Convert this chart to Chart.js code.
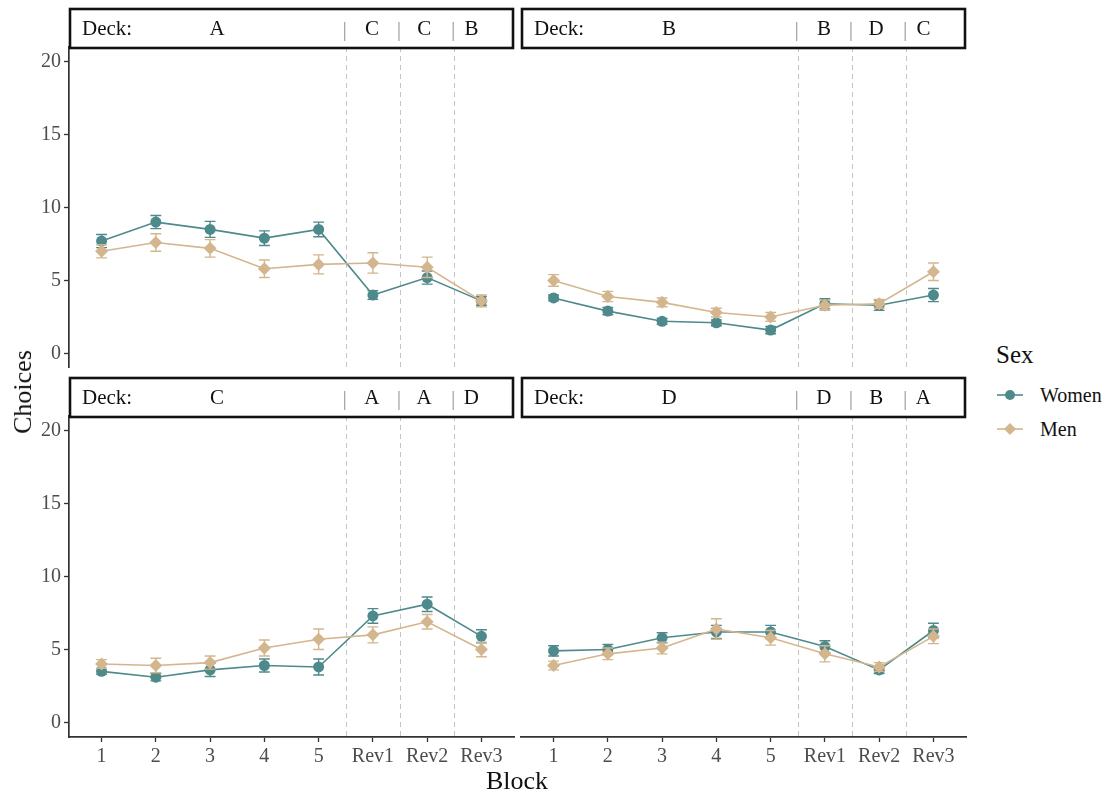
<!DOCTYPE html>
<html>
<head>
<meta charset="utf-8">
<title>Choices per block by deck and sex</title>
<script src="https://cdn.jsdelivr.net/npm/chart.js@4.4.1/dist/chart.umd.min.js"></script>
<style>
  html, body { margin: 0; padding: 0; background: #fff; }
  #page { position: relative; width: 1110px; height: 792px; background: #fff; overflow: hidden;
          font-family: 'Liberation Serif', 'Times New Roman', serif; }
  #page canvas { position: absolute; }
  .title { position: absolute; color: #111; font-size: 26px; white-space: nowrap; }
  #ytitle { left: 23px; top: 392px; transform: translate(-50%, -50%) rotate(-90deg); }
  #xtitle { left: 517px; top: 781px; transform: translate(-50%, -50%); }
  #legend { position: absolute; left: 996px; top: 338px; color: #111; }
  #legend .head { font-size: 25px; line-height: 34px; margin-bottom: 6px; }
  #legend .row { display: flex; align-items: center; height: 34px; font-size: 20px; }
  #legend svg { margin-right: 16px; }
</style>
</head>
<body>
<div id="page">
  <canvas id="deckA"></canvas>
  <canvas id="deckB"></canvas>
  <canvas id="deckC"></canvas>
  <canvas id="deckD"></canvas>
  <div class="title" id="ytitle">Choices</div>
  <div class="title" id="xtitle">Block</div>
  <div id="legend"></div>
</div>
<script>
// Blocks on the x axis and y-axis ticks
const blocks = ['1', '2', '3', '4', '5', 'Rev1', 'Rev2', 'Rev3'];
const yTicks = [0, 5, 10, 15, 20];
const sexes = ['Women', 'Men'];

// Deck shown in each strip, and the decks used in the three reversal blocks
const mainDecks = ['A', 'B', 'C', 'D'];
const reversalDecksA = ['C', 'C', 'B'];
const reversalDecksB = ['B', 'D', 'C'];
const reversalDecksC = ['A', 'A', 'D'];
const reversalDecksD = ['D', 'B', 'A'];

// Mean choices per block (Deck A)
const womenA = [7.7, 9.0, 8.5, 7.9, 8.5, 4.0, 5.2, 3.6];
const menA   = [7.0, 7.6, 7.2, 5.8, 6.1, 6.2, 5.9, 3.6];
const womenAErr = [0.45, 0.45, 0.55, 0.5, 0.5, 0.3, 0.45, 0.3];
const menAErr   = [0.45, 0.6, 0.6, 0.6, 0.65, 0.7, 0.7, 0.4];

// Deck B
const womenB = [3.8, 2.9, 2.2, 2.1, 1.6, 3.4, 3.3, 4.0];
const menB   = [5.0, 3.9, 3.5, 2.8, 2.5, 3.3, 3.4, 5.6];
const womenBErr = [0.2, 0.25, 0.2, 0.2, 0.25, 0.35, 0.35, 0.45];
const menBErr   = [0.4, 0.35, 0.3, 0.3, 0.3, 0.35, 0.3, 0.6];

// Deck C
const womenC = [3.5, 3.1, 3.6, 3.9, 3.8, 7.3, 8.1, 5.9];
const menC   = [4.0, 3.9, 4.1, 5.1, 5.7, 6.0, 6.9, 5.0];
const womenCErr = [0.2, 0.25, 0.45, 0.45, 0.55, 0.5, 0.5, 0.45];
const menCErr   = [0.3, 0.5, 0.45, 0.55, 0.7, 0.55, 0.5, 0.5];

// Deck D
const womenD = [4.9, 5.0, 5.8, 6.2, 6.2, 5.2, 3.6, 6.3];
const menD   = [3.9, 4.7, 5.1, 6.4, 5.8, 4.7, 3.8, 5.9];
const womenDErr = [0.35, 0.35, 0.35, 0.45, 0.45, 0.4, 0.25, 0.5];
const menDErr   = [0.3, 0.4, 0.4, 0.7, 0.5, 0.55, 0.3, 0.5];

const SERIF = "'Liberation Serif', 'Times New Roman', serif";
const WOMEN_COLOR = '#4E8A8B';
const MEN_COLOR = '#D4B68E';
const AXIS_COLOR = '#333333';
const TICK_TEXT = '#4d4d4d';

Chart.defaults.font.family = SERIF;
Chart.defaults.animation = false;

// x positions of the boundaries before each reversal block
const reversalBoundaries = blocks
  .map((b, i) => (b.startsWith('Rev') ? i + 0.5 : null))
  .filter(v => v !== null);

// Dashed separators between the learning and reversal blocks
const boundaryLines = {
  id: 'boundaryLines',
  beforeDatasetsDraw(chart) {
    const { ctx, chartArea: ca, scales: { x } } = chart;
    ctx.save();
    ctx.strokeStyle = '#c4c4c4';
    ctx.lineWidth = 1;
    ctx.setLineDash([5, 4]);
    reversalBoundaries.forEach(v => {
      const px = Math.round(x.getPixelForValue(v)) + 0.5;
      ctx.beginPath();
      ctx.moveTo(px, ca.top);
      ctx.lineTo(px, ca.bottom);
      ctx.stroke();
    });
    ctx.restore();
  }
};

// Vertical error bars with caps, drawn right after their own series
const errorBars = {
  id: 'errorBars',
  afterDatasetDraw(chart, args) {
    const ds = chart.data.datasets[args.index];
    if (!ds.errors) return;
    const { ctx, scales: { x, y } } = chart;
    const half = Math.abs(x.getPixelForValue(1.1) - x.getPixelForValue(1));
    ctx.save();
    ctx.strokeStyle = ds.borderColor;
    ctx.lineWidth = 1.4;
    ds.data.forEach((d, i) => {
      const px = x.getPixelForValue(d.x);
      const top = y.getPixelForValue(d.y + ds.errors[i]);
      const bot = y.getPixelForValue(d.y - ds.errors[i]);
      ctx.beginPath();
      ctx.moveTo(px, top); ctx.lineTo(px, bot);
      ctx.moveTo(px - half, top); ctx.lineTo(px + half, top);
      ctx.moveTo(px - half, bot); ctx.lineTo(px + half, bot);
      ctx.stroke();
    });
    ctx.restore();
  }
};

// Facet strip: "Deck:  X  | R1 | R2 | R3"
const facetStrip = {
  id: 'facetStrip',
  afterDraw(chart, args, opts) {
    const { ctx, chartArea: ca, scales: { x } } = chart;
    const top = ca.top - 38, h = 39;
    ctx.save();
    ctx.fillStyle = '#fff';
    ctx.fillRect(ca.left + 1, top, ca.right - ca.left - 2, h);
    ctx.lineWidth = 2.6;
    ctx.strokeStyle = '#111';
    ctx.strokeRect(ca.left + 1, top, ca.right - ca.left - 2, h);
    const cy = ca.top - 18;
    ctx.textBaseline = 'middle';
    ctx.font = '21px ' + SERIF;
    ctx.fillStyle = '#111';
    ctx.textAlign = 'left';
    ctx.fillText('Deck:', ca.left + 13, cy);
    ctx.textAlign = 'center';
    ctx.fillText(opts.deck, ca.left + 148, cy);
    const shift = [-1, -3, -10];
    reversalBoundaries.forEach((b, k) => {
      const bx = x.getPixelForValue(b);
      ctx.font = '22px ' + SERIF;
      ctx.fillStyle = '#9a9a9a';
      ctx.fillText('|', bx - 1, cy + 1);
      ctx.font = '21px ' + SERIF;
      ctx.fillStyle = '#111';
      ctx.fillText(opts.rev[k], x.getPixelForValue(b + 0.5) + shift[k], cy);
    });
    ctx.restore();
  }
};

function zeroPadding(scale) {
  scale.paddingTop = 0; scale.paddingBottom = 0;
  scale.paddingLeft = 0; scale.paddingRight = 0;
}

function makePanel(id, box, deck, rev, women, men, womenErr, menErr) {
  const canvas = document.getElementById(id);
  canvas.width = box.w; canvas.height = box.h;
  canvas.style.left = box.left + 'px'; canvas.style.top = box.top + 'px';
  canvas.style.width = box.w + 'px'; canvas.style.height = box.h + 'px';

  const toPoints = vals => blocks.map((b, i) => ({ x: i + 1, y: vals[i] }));

  return new Chart(canvas, {
    type: 'line',
    data: {
      datasets: [
        {
          label: sexes[0], data: toPoints(women), errors: womenErr,
          borderColor: WOMEN_COLOR, backgroundColor: WOMEN_COLOR,
          borderWidth: 1.6, pointStyle: 'circle', pointRadius: 5.5,
          pointBorderWidth: 0, order: 1
        },
        {
          label: sexes[1], data: toPoints(men), errors: menErr,
          borderColor: MEN_COLOR, backgroundColor: MEN_COLOR,
          borderWidth: 1.6, pointStyle: 'rectRot', pointRadius: 6.5,
          pointBorderWidth: 0, order: 0
        }
      ]
    },
    options: {
      responsive: false,
      animation: false,
      events: [],
      layout: { padding: box.pad, autoPadding: false },
      plugins: {
        legend: { display: false },
        tooltip: { enabled: false },
        facetStrip: { deck, rev }
      },
      scales: {
        x: {
          type: 'linear', min: 0.4, max: 8.6,
          display: box.showX,
          afterBuildTicks: s => { s.ticks = blocks.map((b, i) => ({ value: i + 1 })); },
          afterFit: s => { zeroPadding(s); if (box.showX) s.height = 55; },
          border: { display: true, color: AXIS_COLOR, width: 1.7 },
          grid: { display: true, drawOnChartArea: false, drawTicks: true,
                  tickLength: 5, tickColor: AXIS_COLOR, tickWidth: 1.3 },
          ticks: {
            color: TICK_TEXT, padding: 3, maxRotation: 0, autoSkip: false,
            font: { size: 20, family: SERIF },
            callback: v => blocks[Math.round(v) - 1]
          }
        },
        y: {
          type: 'linear', min: -1, max: 21,
          display: box.showY,
          afterBuildTicks: s => { s.ticks = yTicks.map(v => ({ value: v })); },
          afterFit: s => { zeroPadding(s); if (box.showY) s.width = 69; },
          border: { display: true, color: AXIS_COLOR, width: 1.7 },
          grid: { display: true, drawOnChartArea: false, drawTicks: true,
                  tickLength: 5, tickColor: AXIS_COLOR, tickWidth: 1.3 },
          ticks: {
            color: TICK_TEXT, padding: 3,
            font: { size: 20, family: SERIF },
            callback: v => String(v)
          }
        }
      }
    },
    plugins: [boundaryLines, errorBars, facetStrip]
  });
}

makePanel('deckA',
  { left: 0, top: 0, w: 516, h: 368, pad: { top: 47, right: 2, left: 0, bottom: 0 }, showX: false, showY: true },
  mainDecks[0], reversalDecksA, womenA, menA, womenAErr, menAErr);
makePanel('deckB',
  { left: 514, top: 0, w: 455, h: 368, pad: { top: 47, right: 3, left: 7, bottom: 0 }, showX: false, showY: false },
  mainDecks[1], reversalDecksB, womenB, menB, womenBErr, menBErr);
makePanel('deckC',
  { left: 0, top: 369, w: 516, h: 423, pad: { top: 47, right: 2, left: 0, bottom: 0 }, showX: true, showY: true },
  mainDecks[2], reversalDecksC, womenC, menC, womenCErr, menCErr);
makePanel('deckD',
  { left: 514, top: 369, w: 455, h: 423, pad: { top: 47, right: 3, left: 7, bottom: 0 }, showX: true, showY: false },
  mainDecks[3], reversalDecksD, womenD, menD, womenDErr, menDErr);

// Legend for the Sex colour mapping
(function buildLegend() {
  const legend = document.getElementById('legend');
  const head = document.createElement('div');
  head.className = 'head';
  head.textContent = 'Sex';
  legend.appendChild(head);
  const keys = [
    { label: sexes[0], color: WOMEN_COLOR, marker: '<circle cx="14" cy="8" r="5" fill="' + WOMEN_COLOR + '"/>' },
    { label: sexes[1], color: MEN_COLOR, marker: '<polygon points="14,2 20,8 14,14 8,8" fill="' + MEN_COLOR + '"/>' }
  ];
  keys.forEach(k => {
    const row = document.createElement('div');
    row.className = 'row';
    row.innerHTML =
      '<svg width="28" height="16" viewBox="0 0 28 16">' +
      '<line x1="1" y1="8" x2="27" y2="8" stroke="' + k.color + '" stroke-width="1.6"/>' +
      k.marker + '</svg><span>' + k.label + '</span>';
    legend.appendChild(row);
  });
})();
</script>
</body>
</html>
